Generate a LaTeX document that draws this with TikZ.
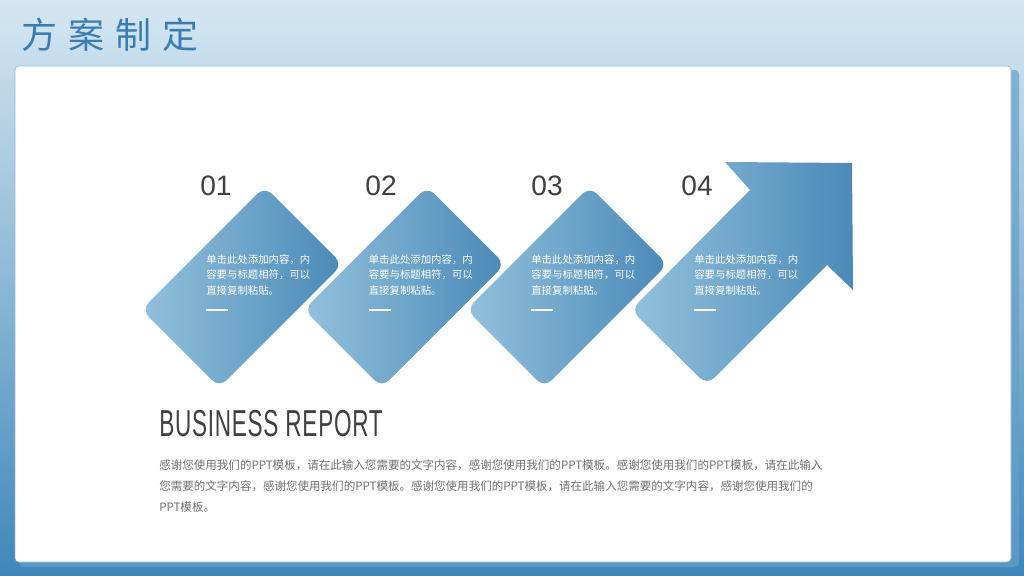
\documentclass[tikz,border=0pt]{standalone}
\usepackage{fontspec}
\setmainfont{Noto Sans CJK SC}
\newfontfamily\titlefont[LetterSpace=31]{Noto Sans CJK SC}
\newfontfamily\numfont{Liberation Sans}
\newfontfamily\condfont[FakeStretch=0.6,LetterSpace=2]{Liberation Sans}
\usetikzlibrary{calc}

\definecolor{bgtop}{HTML}{D6E7F2}
\definecolor{bgmid}{HTML}{B9D6EA}
\definecolor{bgbot}{HTML}{3F87BA}
\definecolor{blueL}{HTML}{93C1DC}
\definecolor{blueD}{HTML}{4A89B8}
\definecolor{titleblue}{HTML}{3A7DB4}
\definecolor{edge}{HTML}{93B8D2}
\definecolor{darktext}{HTML}{404040}
\definecolor{greytext}{HTML}{707070}

\begin{document}
\begin{tikzpicture}[x=0.025cm,y=-0.025cm,
	card/.style={rectangle,rounded corners=0.25cm,minimum width=4.35cm,minimum height=2.75cm,
		rotate=45,left color=blueL,right color=blueD,inner sep=0},
	num/.style={font=\numfont\fontsize{20}{24}\selectfont,text=darktext,inner sep=0},
	note/.style={font=\fontsize{7.4}{11}\selectfont,text=white,align=left,anchor=north west,inner sep=0},
	dashline/.style={draw=white,line width=1.2pt}]
	\useasboundingbox (0,0) rectangle (1024,576);
	%% background and the white card
	\shade[top color=bgtop,middle color=bgmid,bottom color=bgbot] (0,0) rectangle (1024,576);
	\fill[bgbot!80!white,opacity=.7,rounded corners=0.1cm] (19,70) rectangle (1019,567);
	\draw[edge,fill=white,rounded corners=0.1cm] (15,66) rectangle (1011,562);
	\node[font=\titlefont\fontsize{25.6}{28}\selectfont,text=titleblue,anchor=west,inner sep=0] (title) at (21,35) {方案制定};
	%% three rounded diamonds drawn with a loop
	\foreach \i/\x in {1/0,2/1,3/2}{
		\node[card] (d\i) at (242+162.5*\x,287) {};
		}
	%% the last step is an arrow
	\shade[left color=blueL,right color=blueD] (827,265) -- (853,290) -- (852,163) -- (725,162) -- (750,190)
		[rounded corners=0.25cm]-- (631,310) -- (707,385) [sharp corners]-- cycle;
	\coordinate (d4) at (730,287);
	%% numbers, notes and short lines
	\foreach \i/\nx in {1/216,2/381,3/547,4/697}{
		\node[num] (n\i) at (\nx,186) {0\i};
		\node[note] (t\i) at ($(d\i.center)+(-36,-33)$) {单击此处添加内容，内\\容要与标题相符，可以\\直接复制粘贴。};
		\draw[dashline] ($(t\i.south west)+(0,15)$) -- ++(22,0);
		}
	\node[font=\condfont\fontsize{26.7}{30}\selectfont,text=darktext,anchor=west,inner sep=0] (head) at (159,424) {BUSINESS REPORT};
	\node[font=\fontsize{8.2}{15}\selectfont,text=greytext,align=left,anchor=north west,inner sep=0] (body) at (159,459)
		{感谢您使用我们的PPT模板，请在此输入您需要的文字内容，感谢您使用我们的PPT模板。感谢您使用我们的PPT模板，请在此输入\\
		您需要的文字内容，感谢您使用我们的PPT模板。感谢您使用我们的PPT模板，请在此输入您需要的文字内容，感谢您使用我们的\\
		PPT模板。};
\end{tikzpicture}
\end{document}
